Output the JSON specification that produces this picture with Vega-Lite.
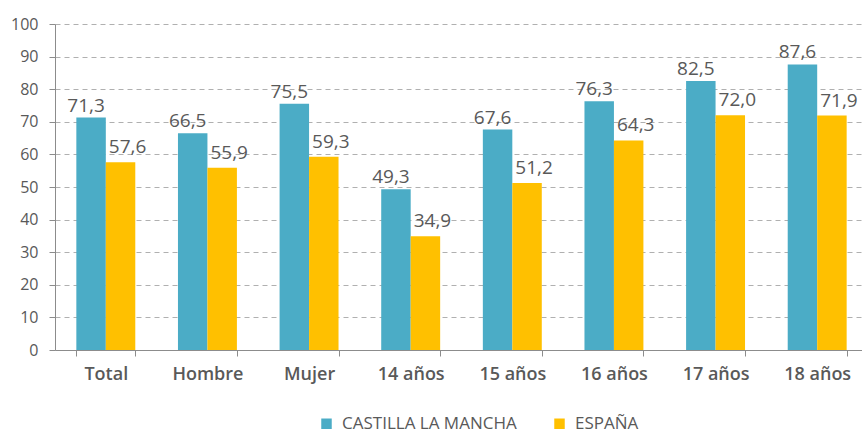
{
  "$schema": "https://vega.github.io/schema/vega-lite/v6.json",
  "autosize": "none",
  "width": 807,
  "height": 326,
  "padding": {"top": 24, "left": 55, "right": 0, "bottom": 83},
  "background": "white",
  "config": {
    "view": {"stroke": null},
    "font": "Open Sans",
    "axis": {"labelColor": "#595959", "labelFont": "Open Sans"}
  },
  "data": {
    "values": [
      {"cat": "Total", "serie": "CASTILLA LA MANCHA", "v": 71.3, "lab": "71,3"},
      {"cat": "Total", "serie": "ESPAÑA", "v": 57.6, "lab": "57,6"},
      {"cat": "Hombre", "serie": "CASTILLA LA MANCHA", "v": 66.5, "lab": "66,5"},
      {"cat": "Hombre", "serie": "ESPAÑA", "v": 55.9, "lab": "55,9"},
      {"cat": "Mujer", "serie": "CASTILLA LA MANCHA", "v": 75.5, "lab": "75,5"},
      {"cat": "Mujer", "serie": "ESPAÑA", "v": 59.3, "lab": "59,3"},
      {"cat": "14 años", "serie": "CASTILLA LA MANCHA", "v": 49.3, "lab": "49,3"},
      {"cat": "14 años", "serie": "ESPAÑA", "v": 34.9, "lab": "34,9"},
      {"cat": "15 años", "serie": "CASTILLA LA MANCHA", "v": 67.6, "lab": "67,6"},
      {"cat": "15 años", "serie": "ESPAÑA", "v": 51.2, "lab": "51,2"},
      {"cat": "16 años", "serie": "CASTILLA LA MANCHA", "v": 76.3, "lab": "76,3"},
      {"cat": "16 años", "serie": "ESPAÑA", "v": 64.3, "lab": "64,3"},
      {"cat": "17 años", "serie": "CASTILLA LA MANCHA", "v": 82.5, "lab": "82,5"},
      {"cat": "17 años", "serie": "ESPAÑA", "v": 72.0, "lab": "72,0"},
      {"cat": "18 años", "serie": "CASTILLA LA MANCHA", "v": 87.6, "lab": "87,6"},
      {"cat": "18 años", "serie": "ESPAÑA", "v": 71.9, "lab": "71,9"}
    ]
  },
  "encoding": {
    "x": {
      "field": "cat", "type": "nominal", "sort": null, "title": null,
      "scale": {"range": [0, 813], "paddingInner": 0.42, "paddingOuter": 0.21},
      "axis": {
        "labelAngle": 0, "tickBand": "extent", "tickSize": 6,
        "domainColor": "#8c8c8c", "tickColor": "#8c8c8c",
        "labelFontSize": 18, "labelFontWeight": 600, "labelPadding": 9,
        "labelColor": "#595959", "grid": false
      }
    },
    "xOffset": {"field": "serie", "type": "nominal", "sort": ["CASTILLA LA MANCHA", "ESPAÑA"]},
    "y": {
      "field": "v", "type": "quantitative", "title": null,
      "scale": {"domain": [0, 100], "nice": false},
      "axis": {
        "values": [0, 10, 20, 30, 40, 50, 60, 70, 80, 90, 100],
        "tickSize": 6, "domainColor": "#8c8c8c", "tickColor": "#8c8c8c",
        "gridColor": "#b0b0b0", "gridDash": [5, 4], "gridWidth": 1,
        "labelFontSize": 16, "labelPadding": 11, "labelColor": "#595959"
      }
    }
  },
  "layer": [
    {
      "mark": {"type": "bar"},
      "encoding": {
        "color": {
          "field": "serie", "type": "nominal", "sort": ["CASTILLA LA MANCHA", "ESPAÑA"],
          "scale": {"domain": ["CASTILLA LA MANCHA", "ESPAÑA"], "range": ["#4BACC6", "#FFC000"]},
          "legend": {
            "title": null, "orient": "none", "direction": "horizontal",
            "legendX": 263, "legendY": 391,
            "symbolType": "square", "symbolSize": 110, "symbolStrokeWidth": 0,
            "labelFontSize": 17, "labelColor": "#595959", "labelFont": "Open Sans",
            "labelLimit": 400, "labelOffset": 7, "columnPadding": 34
          }
        }
      }
    },
    {
      "transform": [{"filter": "datum.serie === 'CASTILLA LA MANCHA'"}],
      "mark": {"type": "text", "baseline": "alphabetic", "dy": -6, "dx": -5, "fontSize": 19, "color": "#595959", "font": "Open Sans"},
      "encoding": {"text": {"field": "lab"}}
    },
    {
      "transform": [{"filter": "datum.serie === 'ESPAÑA'"}],
      "mark": {"type": "text", "baseline": "alphabetic", "dy": -9, "dx": 7, "fontSize": 19, "color": "#595959", "font": "Open Sans"},
      "encoding": {"text": {"field": "lab"}}
    }
  ]
}
